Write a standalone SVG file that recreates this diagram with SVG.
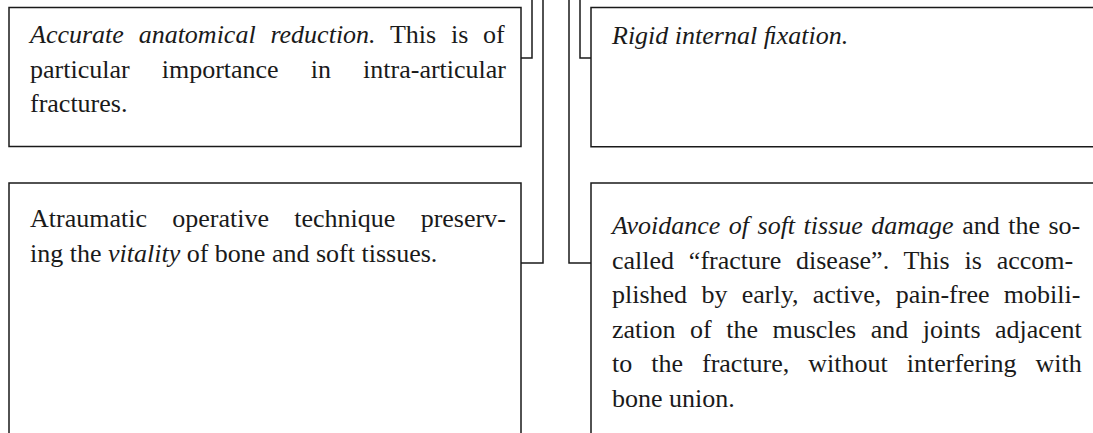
<svg xmlns="http://www.w3.org/2000/svg" width="1093" height="433" viewBox="0 0 1093 433">
<style>
.box{fill:none;stroke:#1a1a1a;stroke-width:1.5}
.con{fill:none;stroke:#1a1a1a;stroke-width:1.5}
text{font-family:"Liberation Serif","Times New Roman",serif;font-size:26px;fill:#1a1a1a}
.i{font-style:italic}
</style>
<rect width="1093" height="433" fill="#ffffff"/>
<g id="connectors">
<path class="con" d="M532,0 V58 H521"/>
<path class="con" d="M543,0 V263 H521"/>
<path class="con" d="M569,0 V263 H591"/>
<path class="con" d="M580,0 V58 H591"/>
</g>
<g id="node-reduction">
<rect class="box" x="9" y="7.5" width="512" height="139"/>
<text x="30" y="43" style="word-spacing:8.3px"><tspan class="i">Accurate anatomical reduction.</tspan> This is of</text>
<text x="30" y="77.5" style="word-spacing:25.6px">particular importance in intra-articular</text>
<text x="30" y="112">fractures.</text>
</g>
<g id="node-fixation">
<path class="box" d="M1094,7.5 H591 V146.7 H1094"/>
<text x="612" y="44" class="i">Rigid internal ﬁxation.</text>
</g>
<g id="node-atraumatic">
<path class="box" d="M9,434 V183 H521 V434"/>
<text x="30" y="227" style="word-spacing:18.8px">Atraumatic operative technique preserv-</text>
<text x="30" y="261.5">ing the <tspan class="i">vitality</tspan> of bone and soft tissues.</text>
</g>
<g id="node-soft-tissue">
<path class="box" d="M1094,183 H591 V434"/>
<text x="612" y="234" style="word-spacing:2px"><tspan class="i">Avoidance of soft tissue damage</tspan> and the so-</text>
<text x="612" y="268.5" style="word-spacing:8.3px">called “fracture disease”. This is accom-</text>
<text x="612" y="303" style="word-spacing:7.8px">plished by early, active, pain-free mobili-</text>
<text x="612" y="337.5" style="word-spacing:8px">zation of the muscles and joints adjacent</text>
<text x="612" y="372" style="word-spacing:12.5px">to the fracture, without interfering with</text>
<text x="612" y="406.5">bone union.</text>
</g>
</svg>
